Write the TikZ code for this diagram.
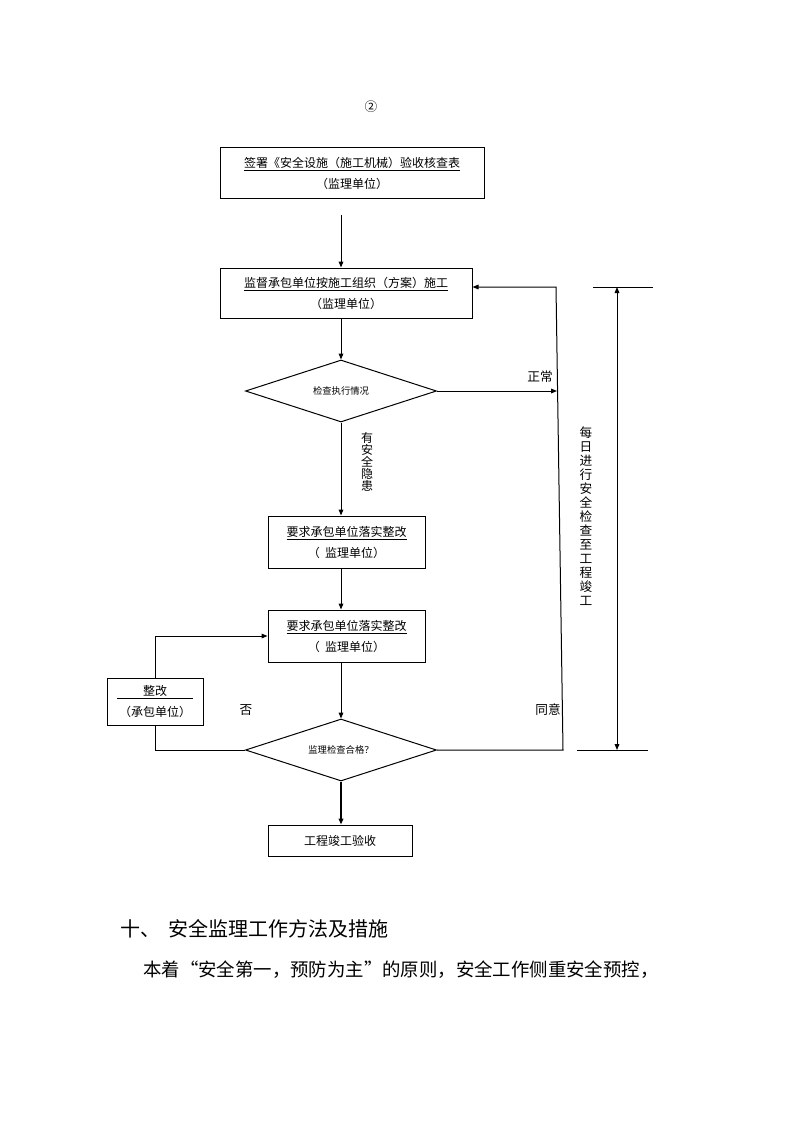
\documentclass[tikz,border=0pt]{standalone}
\usepackage{fontspec}
\setmainfont{Noto Sans CJK SC}
\usetikzlibrary{arrows.meta,shapes.geometric,calc}
\begin{document}
\begin{tikzpicture}[x=0.75pt,y=-0.75pt,
  box/.style={draw,line width=0.75pt,align=center,inner sep=0pt,font=\fontsize{9pt}{15.75pt}\selectfont},
  dia/.style={draw,line width=0.75pt,diamond,aspect=3,inner sep=0pt,minimum width=143.25pt,minimum height=46.5pt,font=\fontsize{7pt}{8pt}\selectfont},
  tip/.tip={Triangle[length=4.5pt,width=3.5pt]},
  arr/.style={-tip,line width=0.75pt},
  ln/.style={line width=0.75pt},
  lbl/.style={font=\fontsize{9.5pt}{11pt}\selectfont,inner sep=0pt},
  vlbl/.style={font=\fontsize{9.5pt}{10.5pt}\selectfont,inner sep=0pt,align=center},
  vlbls/.style={font=\fontsize{9pt}{9pt}\selectfont,inner sep=0pt,align=center}]
\path[use as bounding box,fill=white] (0,0) rectangle (794,1123);

\node[lbl] (n2) at (371,107) {②};

\node[box,minimum width=198pt,minimum height=38.25pt] (b1) at (352,173.5)
  {\underline{签署《安全设施（施工机械）验收核查表}\\（监理单位）};
\node[box,minimum width=189pt,minimum height=37.5pt] (b2) at (346,293)
  {\underline{监督承包单位按施工组织（方案）施工}\\（监理单位）};
\node[dia] (d1) at (341,391) {检查执行情况};
\node[box,minimum width=117.75pt,minimum height=39pt] (b3) at (346.5,542)
  {\underline{要求承包单位落实整改}\\（\ \ 监理单位）};
\node[box,minimum width=117.75pt,minimum height=39pt] (b4) at (346.5,636)
  {\underline{要求承包单位落实整改}\\（\ \ 监理单位）};
\node[dia] (d2) at (341,750) {监理检查合格？};
\node[box,minimum width=108pt,minimum height=23.25pt] (b5) at (340,840.5) {工程竣工验收};
\node[box,minimum width=72pt,minimum height=35.25pt] (fx) at (155,701.5)
  {\underline{\makebox[57pt]{整改}}\\（承包单位）};

% coordinates
\coordinate (rb) at (563,750);
\coordinate (rt) at (556,287);
\coordinate (rm) at (557,391);
\coordinate (lt) at (155,636);
\coordinate (dt) at (617,287);
\coordinate (db) at (617,750);
\coordinate (t1a) at (593,287);
\coordinate (t1b) at (653,287);
\coordinate (t2a) at (577,750);
\coordinate (t2b) at (648,750);

% connectors
\draw[arr] ($(b1.south -| d1)+(0,16)$) -- (b2.north -| d1);
\draw[arr] (b2.south -| d1) -- (d1.north);
\draw[arr] (d1.east) -- (rm);
\draw[arr] (d1.south) -- (b3.north -| d1);
\draw[arr] (b3.south -| d1) -- (b4.north -| d1);
\draw[arr] (b4.south -| d1) -- (d2.north);
\draw[-tip,line width=2pt] (d2.south) -- (b5.north -| d1);
\draw[arr] (d2.east) -- (rb) -- (rt) -- (rt -| b2.east);
\draw[ln] (d2.west) -- (d2.west -| fx) -- (fx.south);
\draw[arr] (fx.north) |- (b4.west |- lt);

% dimension
\draw[tip-tip,line width=0.75pt] (dt) -- (db);
\draw[ln] (t1a) -- (t1b);
\draw[ln] (t2a) -- (t2b);

% labels
\node[lbl] (lz) at (540,377) {正常};
\node[lbl] (lf) at (246,710) {否};
\node[lbl] (lt2) at (548,710) {同意};
\node[vlbls] (lv) at (367,462) {有\\安\\全\\隐\\患};
\node[vlbl] (lr) at (586,516) {每\\日\\进\\行\\安\\全\\检\\查\\至\\工\\程\\竣\\工};

% text below
\node[anchor=west,inner sep=0pt,font=\fontsize{15pt}{18pt}\selectfont] (h) at (120,929)
  {十、\hspace{0.4em}安全监理工作方法及措施};
\node[anchor=west,inner sep=0pt,font=\fontsize{13.8pt}{16pt}\selectfont] (p) at (143,970)
  {本着“安全第一，预防为主”的原则，安全工作侧重安全预控，};
\end{tikzpicture}
\end{document}
